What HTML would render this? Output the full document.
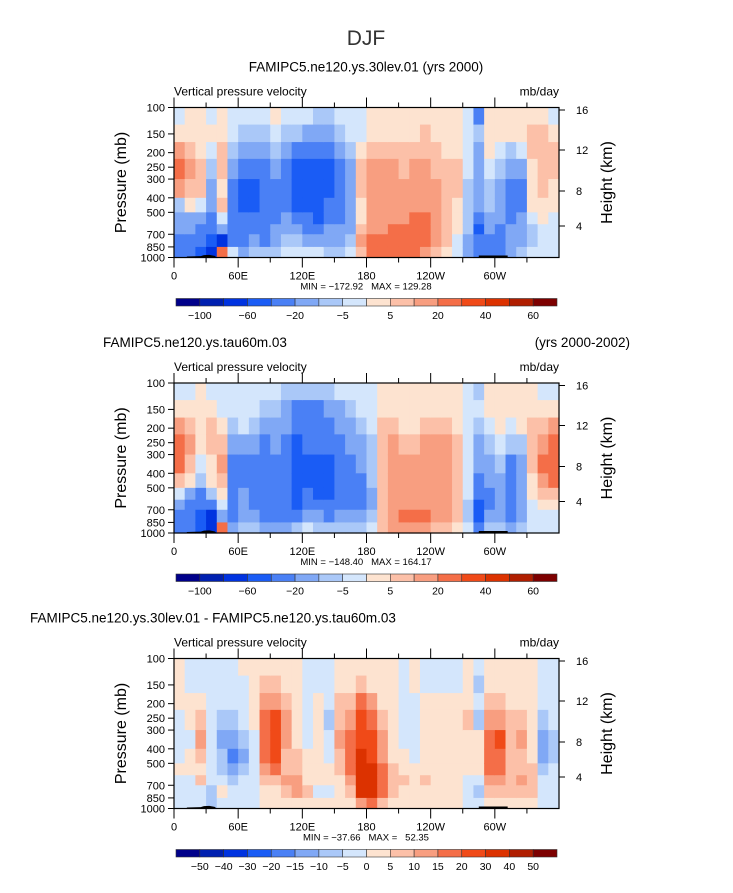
<!DOCTYPE html>
<html><head><meta charset="utf-8">
<style>
body{margin:0;background:#fff;}
svg text{font-family:"Liberation Sans",sans-serif;fill:#000;white-space:pre;}
</style></head>
<body>
<svg id="fig" width="733" height="888" viewBox="0 0 733 888" xmlns="http://www.w3.org/2000/svg">
<text x="366" y="45" font-size="21" text-anchor="middle" style="fill:#333">DJF</text>
</svg>
<script>
// ---- data ----
const lonEdges = [0,10,20,30,40,50,60,70,80,90,100,110,120,130,140,150,160,170,180,190,200,210,220,230,240,250,260,270,280,290,300,310,320,330,340,350,360];
const presEdges = [100,130,170,220,300,400,500,600,700,850,1000];
const pTicks = [100,150,200,250,300,400,500,700,850,1000];
const lonTickVals = [0,60,120,180,240,300];
const lonTickLabels = ["0","60E","120E","180","120W","60W"];
const hTickLabels = ["16","12","8","4"];
const bounds1 = [-100,-80,-60,-40,-20,-10,-5,0,5,10,20,30,40,50,60];
const bounds3 = [-50,-40,-30,-20,-15,-10,-5,0,5,10,15,20,30,40,50];
const cbLabels1 = ["−100","","−60","","−20","","−5","","5","","20","","40","","60"];
const cbLabels3 = ["−50","−40","−30","−20","−15","−10","−5","0","5","10","15","20","30","40","50"];
const palette = ["#00008a","#0020b0","#0033e0","#1a5cf5","#4a80f5","#80a8f5","#aac8f8","#d4e6fc","#fde3d0","#fcc0a8","#f89e80","#f46e48","#f04a18","#dc3200","#b01e00","#7d0000"];

const p1Cols = [
[-2,2,15,25,15,-7,-15,-15,-30,-30],[2,2,7,15,7,2,-15,-15,-30,-30],[2,2,2,7,7,-2,-15,-30,-30,-50],
[-2,2,-2,-7,-15,-15,-30,-30,-50,-70],[2,2,7,7,2,7,-2,-15,-70,25],[-2,-2,-7,-15,-30,-30,-30,-30,-30,-2],
[-2,-7,-15,-30,-50,-50,-30,-30,-30,-15],[-2,-7,-15,-30,-50,-50,-30,-30,-15,-7],[-2,-7,-15,-30,-30,-30,-30,-30,-30,-7],
[2,-2,-7,-15,-30,-30,-30,-15,-15,-7],[-2,-7,-15,-30,-30,-30,-15,-15,-7,-2],[-2,-7,-30,-50,-50,-50,-30,-15,-7,-2],
[-2,-15,-30,-50,-50,-50,-30,-30,-15,-2],[-7,-15,-30,-50,-50,-50,-50,-30,-15,-2],[-7,-15,-30,-50,-50,-30,-30,-15,-15,-7],
[-2,-7,-15,-30,-30,-30,-30,-15,-15,-7],[-2,-2,-7,-15,-15,-15,-15,-15,-7,-2],[-2,-2,2,7,7,2,2,7,15,7],
[2,2,7,15,15,15,15,15,25,25],[2,2,7,15,15,15,15,15,25,25],[2,2,7,15,15,15,15,25,25,25],
[2,2,7,7,15,15,15,25,25,25],[2,2,7,15,15,15,25,25,25,25],[2,7,7,15,15,15,25,25,25,15],
[2,2,7,7,15,15,15,15,15,7],[2,2,2,7,7,7,7,7,7,2],[2,2,2,7,7,2,2,2,-2,-2],
[-2,-2,-2,-2,-7,-7,-7,-7,-15,-15],[-30,-7,-15,-15,-15,-15,-30,-50,-30,-30],[2,2,2,-2,-7,-7,-15,-15,-30,-30],
[2,2,-2,-7,-15,-15,-15,-30,-30,-30],[2,2,-7,-15,-30,-30,-30,-15,-15,-15],[2,2,-2,-15,-30,-30,-15,-15,-15,-7],
[2,7,7,2,2,2,-2,-7,-7,-2],[2,7,7,7,7,2,2,-2,-2,-2],[-2,2,7,7,2,2,-2,-2,-2,-2]];

const p2Cols = [
[-2,2,15,25,25,7,-2,-15,-30,-30],[-2,2,7,15,7,2,-15,-30,-30,-30],[2,2,2,2,-2,-7,-30,-30,-50,-50],
[-2,2,7,7,2,2,-7,-30,-70,-70],[-2,-2,2,7,15,7,2,-2,-15,25],[-2,-2,-7,-15,-30,-30,-30,-30,-30,-15],
[-2,-2,-2,-15,-30,-30,-15,-15,-15,-7],[-2,-2,-7,-15,-30,-30,-30,-30,-15,-7],[-2,-7,-15,-30,-30,-30,-30,-30,-30,-15],
[-2,-7,-15,-15,-30,-30,-30,-30,-30,-15],[-7,-15,-15,-30,-30,-30,-30,-30,-30,-15],[-7,-30,-30,-50,-50,-50,-50,-50,-30,-7],
[-7,-30,-30,-30,-50,-50,-30,-30,-15,-2],[-7,-30,-30,-30,-50,-50,-50,-30,-15,-7],[-7,-15,-30,-30,-50,-50,-50,-30,-30,-7],
[-2,-15,-15,-30,-30,-30,-30,-30,-15,-7],[-2,-7,-15,-15,-30,-30,-30,-30,-15,-7],[-2,-2,-7,-15,-15,-30,-30,-30,-15,-7],
[-2,-2,-2,-7,-7,-7,-15,-15,-7,-2],[2,2,7,7,7,7,7,7,7,7],[2,2,7,15,15,15,15,15,15,15],
[2,2,2,7,15,15,15,15,25,15],[2,2,2,7,15,15,15,15,25,15],[2,2,7,15,15,15,15,15,25,15],
[2,2,7,15,15,15,15,15,15,7],[2,2,7,15,15,15,15,15,15,7],[2,2,2,7,7,7,7,7,7,2],
[-2,-2,-2,-2,-2,-2,-2,-7,-7,-2],[-7,-2,-7,-15,-15,-30,-30,-50,-50,-30],[2,2,-2,-7,-15,-15,-30,-30,-15,-7],
[2,2,2,-2,-7,-15,-15,-15,-15,-7],[2,2,-2,-7,-30,-30,-30,-30,-30,-15],[2,2,2,-7,-15,-15,-15,-15,-15,-7],
[2,2,7,7,7,2,2,-2,-2,-2],[-2,2,7,15,25,15,7,2,-2,-2],[-2,2,15,25,25,25,7,2,-2,-2]];

const p3Cols = [
[2,2,2,-2,-2,-2,2,-2,-2,-2],[-2,-2,2,2,-2,2,2,-2,-2,-2],[-2,-2,2,7,12,7,2,7,-2,-2],
[-2,-2,-2,-2,-2,-2,-2,-2,-7,-7],[-2,-2,-2,-7,-12,-7,-7,-2,2,-2],[-2,-2,-2,-7,-12,-17,-12,-7,-2,-2],
[2,-2,-2,-2,-7,-12,-7,-2,-2,-2],[2,2,2,2,-2,-2,-2,-2,-2,-2],[2,7,12,17,17,17,12,7,2,2],
[2,7,12,25,25,25,17,7,2,2],[2,2,7,12,12,7,7,12,7,2],[2,2,2,2,2,7,7,12,12,2],
[-2,-2,-2,-2,-2,2,2,2,7,2],[-2,-2,2,2,2,2,2,2,-2,2],[-2,-2,-2,-7,-2,-2,2,2,-2,2],
[2,2,7,7,12,7,7,2,2,2],[2,2,7,12,17,17,17,12,7,2],[2,7,17,25,25,35,35,35,35,12],
[2,2,12,17,25,25,35,35,35,17],[2,2,2,7,12,12,17,17,17,7],[2,2,2,2,2,2,7,7,7,2],
[-2,-2,-2,-2,-2,2,2,7,2,2],[2,2,-2,-2,-2,-2,2,2,2,2],[-2,-2,2,2,2,2,2,7,2,2],
[-2,-2,2,2,2,2,2,2,2,2],[-2,-2,2,2,2,2,2,2,2,2],[-2,-2,2,2,2,2,2,2,2,2],
[2,2,2,7,2,2,2,-2,-2,-2],[-2,-7,-2,-7,2,2,2,-2,-7,-2],[2,2,7,12,17,17,17,12,7,2],
[2,2,7,12,25,17,17,12,7,2],[2,2,2,7,7,7,7,7,7,2],[2,2,2,7,12,7,7,12,7,2],
[2,2,2,2,2,2,7,7,7,2],[-2,-2,-2,-7,-12,-12,-7,-2,-2,-2],[-2,-2,-2,-2,-7,-7,-2,-2,-2,-2]];

// ---- drawing ----
const NS = "http://www.w3.org/2000/svg";
const svg = document.getElementById('fig');
const X0 = 174, W = 385, H = 150;
function mk(tag, attrs, parent){const e=document.createElementNS(NS,tag);for(const k in attrs)e.setAttribute(k,attrs[k]);(parent||svg).appendChild(e);return e;}
function txt(s,x,y,size,anchor,parent){const t=mk('text',{x:x,y:y,'font-size':size,'text-anchor':anchor||'start'},parent);t.textContent=s;return t;}
function colorIdx(v,b){let i=0;while(i<b.length&&v>=b[i])i++;return i;}

function panel(cfg){
  const top=cfg.top;
  const xs=l=>X0+l/360*W;
  const ys=p=>top+Math.log10(p/100)*H;
  const g=mk('g',{});
  
  
  const cells=mk('g',{},g);
  
  
  cfg.data.forEach((col,i)=>{
    col.forEach((v,j)=>{
      const x1=xs(lonEdges[i]),x2=xs(lonEdges[i+1]),y1=ys(presEdges[j]),y2=ys(presEdges[j+1]);
      const r=mk('rect',{x:x1,y:y1,width:x2-x1+0.6,height:y2-y1+0.6,fill:palette[colorIdx(v,cfg.bounds)]},cells);
      
      
    });
  });
  const topo=mk('polygon',{points:[[xs(12),ys(1000)],[xs(12),ys(985)],[xs(25),ys(980)],[xs(28),ys(965)],[xs(33),ys(960)],[xs(38),ys(975)],[xs(40),ys(1000)]].map(p=>p.join(',')).join(' '),fill:'#000'},g);
  
  
  const topo2=mk('rect',{x:xs(285),y:ys(1000)-2,width:xs(312)-xs(285),height:2,fill:'#000'},g);
  
  
  const fr=mk('rect',{x:X0,y:top,width:W,height:H,fill:'none',stroke:'#000','stroke-width':1.2},g);
  
  
  for(let l=0;l<360;l+=30){
    const major=l%60===0,len=major?10:5;
    mk('line',{x1:xs(l),x2:xs(l),y1:top+H,y2:top+H+len,stroke:'#000','stroke-width':1},g);
    mk('line',{x1:xs(l),x2:xs(l),y1:top,y2:top-len,stroke:'#000','stroke-width':1},g);
  }
  lonTickVals.forEach((l,i)=>{const t=txt(lonTickLabels[i],xs(l),top+H+22,11,'middle',g);
    });
  pTicks.forEach(p=>{
    mk('line',{x1:X0,x2:X0-6,y1:ys(p),y2:ys(p),stroke:'#000','stroke-width':1},g);
    const t=txt(String(p),X0-9,ys(p)+4,11,'end',g);
    
  });
  const hOff=[2.5,42.5,83.5,118.5];
  hOff.forEach((o,i)=>{
    mk('line',{x1:X0+W,x2:X0+W+6,y1:top+o,y2:top+o,stroke:'#000','stroke-width':1},g);
    const t=txt(hTickLabels[i],X0+W+17,top+o+4,11,'start',g);
    
  });
  let t=txt('Pressure (mb)',0,0,16,'middle',g);t.setAttribute('transform','translate(126,'+(top+75)+') rotate(-90)');
  
  t=txt('Height (km)',0,0,16,'middle',g);t.setAttribute('transform','translate(612,'+(top+75)+') rotate(-90)');
  
  t=txt('Vertical pressure velocity',X0,top-12,12,'start',g);
  
  t=txt('mb/day',X0+W,top-12,12,'end',g);
  
  t=txt(cfg.minmax,366,top+182,9.5,'middle',g);
  
  cfg.titles.forEach(tt=>{const e=txt(tt[0],tt[1],top-36,13.5,tt[2],g);
    });
  const cb=mk('g',{},g);
  
  
  const cx0=176,cw=(557-176)/16,cy=top+191,ch=7.5;
  palette.forEach((c,i)=>{const r=mk('rect',{x:cx0+i*cw,y:cy,width:cw,height:ch,fill:c,stroke:'#333','stroke-width':0.6},cb);
    });
  cfg.cbLabels.forEach((s,i)=>{if(!s)return;const e=txt(s,cx0+(i+1)*cw,cy+ch+13,10.5,'middle',cb);
    });
}
panel({name:'panel-30lev',top:107.5,data:p1Cols,bounds:bounds1,cbLabels:cbLabels1,minmax:'MIN = −172.92   MAX = 129.28',
  titles:[['FAMIPC5.ne120.ys.30lev.01 (yrs 2000)',366,'middle']]});
panel({name:'panel-tau60m',top:383,data:p2Cols,bounds:bounds1,cbLabels:cbLabels1,minmax:'MIN = −148.40   MAX = 164.17',
  titles:[['FAMIPC5.ne120.ys.tau60m.03',103,'start'],['(yrs 2000-2002)',630,'end']]});
panel({name:'panel-difference',top:658.5,data:p3Cols,bounds:bounds3,cbLabels:cbLabels3,minmax:'MIN = −37.66   MAX =   52.35',
  titles:[['FAMIPC5.ne120.ys.30lev.01 - FAMIPC5.ne120.ys.tau60m.03',30,'start']]});
</script>
</body></html>
